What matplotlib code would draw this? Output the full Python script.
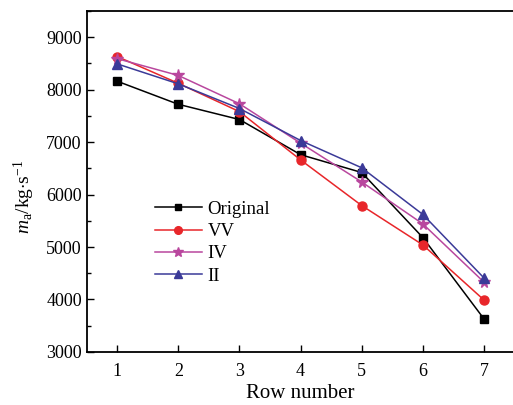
import numpy as np
import matplotlib
matplotlib.use("Agg")
import matplotlib.pyplot as plt
from matplotlib.ticker import MultipleLocator

plt.rcParams['font.family'] = ['Liberation Serif', 'DejaVu Serif']
plt.rcParams['mathtext.fontset'] = 'custom'
plt.rcParams['mathtext.rm'] = 'Liberation Serif'
plt.rcParams['mathtext.it'] = 'Liberation Serif:italic'

rows = [1, 2, 3, 4, 5, 6, 7]
original = [8160, 7720, 7430, 6760, 6420, 5180, 3630]
vv = [8630, 8120, 7580, 6660, 5790, 5040, 3990]
iv = [8590, 8270, 7730, 6980, 6240, 5440, 4330]
ii = [8490, 8110, 7640, 7030, 6510, 5620, 4410]

fig = plt.figure(figsize=(5.13, 4.05), dpi=100)
ax = fig.add_axes([0.169, 0.131, 0.834, 0.842])

ax.plot(rows, original, color='black', marker='s', ms=5.5, lw=1.1, label='Original')
ax.plot(rows, vv, color='#e8262a', marker='o', ms=6.5, lw=1.1, label='VV')
ax.plot(rows, iv, color='#b9479e', marker='*', ms=8.5, lw=1.1, label='IV')
ax.plot(rows, ii, color='#3b3a98', marker='^', ms=7, lw=1.1, label='II')

ax.set_xlim(0.5, 7.5)
ax.set_ylim(3000, 9500)
ax.xaxis.set_major_locator(MultipleLocator(1))
ax.yaxis.set_major_locator(MultipleLocator(1000))
ax.yaxis.set_minor_locator(MultipleLocator(500))
ax.tick_params(direction='in', labelsize=13, width=1, length=5)
ax.tick_params(axis='y', which='minor', direction='in', length=3, width=1)
ax.tick_params(axis='x', pad=8)
ax.spines['right'].set_visible(False)
for s in ['left', 'bottom', 'top']:
    ax.spines[s].set_linewidth(1.3)

ax.set_xlabel('Row number', fontsize=15, labelpad=3)
ax.set_ylabel(r'$m_\mathrm{a}$/kg$\cdot$s$^{-1}$', fontsize=14)
ax.yaxis.set_label_coords(-0.115, 0.455)

ax.legend(loc='lower left', bbox_to_anchor=(0.12, 0.148), frameon=False,
          fontsize=13.5, handlelength=2.5, labelspacing=0.27, handletextpad=0.3,
          markerscale=0.85)

fig.savefig('out.png', dpi=100)
